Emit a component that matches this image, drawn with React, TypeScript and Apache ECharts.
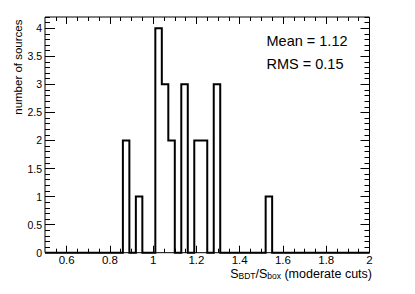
import React, { useEffect, useRef } from "react";
import * as echarts from "echarts";

// Histogram: non-empty bins (lower edge, count); bin width 0.03 from 0.5 to 2.0
const binLowEdges = [0.86, 0.92, 1.01, 1.04, 1.07, 1.13, 1.19, 1.22, 1.28, 1.52];
const binCounts = [2, 1, 4, 3, 2, 3, 2, 2, 3, 1];
const binWidth = 0.03;
const xMin = 0.5;
const xMax = 2.0;
const yMin = 0;
const yMax = 4.2;

const xMajorTicks = [0.6, 0.8, 1.0, 1.2, 1.4, 1.6, 1.8, 2.0];
const yMajorTicks = [0, 0.5, 1, 1.5, 2, 2.5, 3, 3.5, 4];
const statLines = ["Mean = 1.12", "RMS = 0.15"];
const yTitle = "number of sources";

function range(a: number, b: number, step: number): number[] {
  const out: number[] = [];
  const n = Math.round((b - a) / step);
  for (let i = 0; i <= n; i++) out.push(Math.round((a + i * step) * 1000) / 1000);
  return out;
}
const xMinorTicks = range(0.55, 2.0, 0.05);
const yMinorTicks = range(0.1, 4.2, 0.1);

function buildOutline(): number[][] {
  const nBins = Math.round((xMax - xMin) / binWidth);
  const counts = new Array(nBins).fill(0);
  binLowEdges.forEach((lo, i) => {
    const k = Math.round((lo - xMin) / binWidth);
    counts[k] = binCounts[i];
  });
  const pts: number[][] = [[xMin, 0]];
  for (let k = 0; k < nBins; k++) {
    const lo = Math.round((xMin + k * binWidth) * 1000) / 1000;
    const hi = Math.round((xMin + (k + 1) * binWidth) * 1000) / 1000;
    pts.push([lo, counts[k]]);
    pts.push([hi, counts[k]]);
  }
  pts.push([xMax, 0]);
  return pts;
}

const fmt = (v: number) => String(Math.round(v * 100) / 100);
const FONT = "Liberation Sans, Arial, Helvetica, sans-serif";

function xAxisDef(position: "top" | "bottom", ticks: number[], len: number, labels: boolean) {
  return {
    type: "value",
    position,
    min: xMin,
    max: xMax,
    axisLine: { show: false, onZero: false },
    splitLine: { show: false },
    axisTick: {
      show: true,
      inside: true,
      length: len,
      customValues: ticks,
      lineStyle: { color: "#000", width: 1 },
    },
    axisLabel: labels
      ? {
          show: true,
          customValues: xMajorTicks,
          formatter: fmt,
          color: "#000",
          fontFamily: FONT,
          fontSize: 11.5,
          lineHeight: 10,
          margin: 2.5,
        }
      : { show: false },
  };
}

function yAxisDef(position: "left" | "right", ticks: number[], len: number, labels: boolean) {
  return {
    type: "value",
    position,
    min: yMin,
    max: yMax,
    axisLine: { show: false, onZero: false },
    splitLine: { show: false },
    axisTick: {
      show: true,
      inside: true,
      length: len,
      customValues: ticks,
      lineStyle: { color: "#000", width: 1 },
    },
    axisLabel: labels
      ? {
          show: true,
          customValues: yMajorTicks,
          formatter: fmt,
          color: "#000",
          fontFamily: FONT,
          fontSize: 10.5,
          margin: 3,
        }
      : { show: false },
  };
}

export default function App() {
  const ref = useRef<HTMLDivElement>(null);
  useEffect(() => {
    if (!ref.current) return;
    const chart = echarts.init(ref.current, null, { renderer: "svg" });
    chart.setOption({
      animation: false,
      backgroundColor: "#fff",
      grid: {
        left: 45,
        right: 45.5,
        top: 17,
        bottom: 41.3,
        show: true,
        borderColor: "#000",
        borderWidth: 1,
        backgroundColor: "transparent",
      },
      xAxis: [
        xAxisDef("bottom", xMinorTicks, 4, false),
        xAxisDef("bottom", xMajorTicks, 7, true),
        xAxisDef("top", xMinorTicks, 4, false),
        xAxisDef("top", xMajorTicks, 7, false),
      ],
      yAxis: [
        yAxisDef("left", yMinorTicks, 5, false),
        yAxisDef("left", yMajorTicks, 10, true),
        yAxisDef("right", yMinorTicks, 5, false),
        yAxisDef("right", yMajorTicks, 9, false),
      ],
      series: [
        {
          type: "line",
          xAxisIndex: 0,
          yAxisIndex: 0,
          data: buildOutline(),
          showSymbol: false,
          symbol: "none",
          silent: true,
          clip: false,
          lineStyle: { color: "#000", width: 2, join: "miter" },
        },
      ],
      graphic: [
        {
          type: "text",
          x: 266.5,
          y: 41,
          style: {
            text: statLines[0],
            fill: "#000",
            font: `14.5px ${FONT}`,
            textAlign: "left",
            textVerticalAlign: "middle",
          },
        },
        {
          type: "text",
          x: 266.5,
          y: 63.5,
          style: {
            text: statLines[1],
            fill: "#000",
            font: `14.5px ${FONT}`,
            textAlign: "left",
            textVerticalAlign: "middle",
          },
        },
        {
          type: "text",
          x: 17.5,
          y: 19.5,
          rotation: Math.PI / 2,
          style: {
            text: yTitle,
            fill: "#000",
            font: `11.5px ${FONT}`,
            textAlign: "right",
            textVerticalAlign: "middle",
          },
        },
        {
          type: "text",
          x: 372,
          y: 267,
          style: {
            text: "{m|S}{s|BDT}{m|/S}{s|box}{m| (moderate cuts)}",
            fill: "#000",
            textAlign: "right",
            textVerticalAlign: "top",
            rich: {
              m: { fontFamily: FONT, fontSize: 12.5, lineHeight: 13, fill: "#000", verticalAlign: "top" },
              s: {
                fontFamily: FONT,
                fontSize: 8.5,
                lineHeight: 8.5,
                fill: "#000",
                verticalAlign: "bottom",
                padding: [7, 0, 0, 0],
              },
            },
          },
        },
      ],
    });
    return () => chart.dispose();
  }, []);
  return (
    <div
      ref={ref}
      style={{ position: "absolute", left: 0, top: 0, width: 415, height: 294 }}
    />
  );
}
